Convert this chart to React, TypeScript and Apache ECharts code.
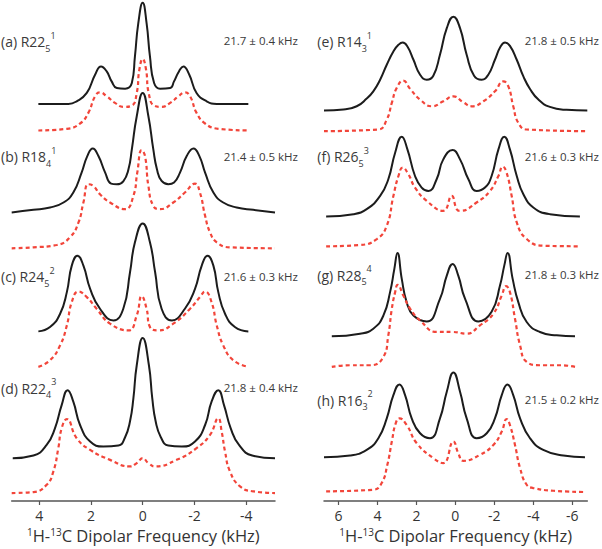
import React, { useEffect, useRef } from "react";
import * as echarts from "echarts";

// x: dipolar frequency (kHz); y: stacked intensity (arbitrary units, baseline-offset)
const aExp = [[4.03,398.7],[2.87,398.7],[2.55,401.3],[2.16,409.7],[1.84,428],[1.61,436.3],[1.39,431.3],[1.20,421.3],[1.00,414.7],[0.68,414],[0.42,419.7],[0.30,446.3],[0.17,479.7],[0,500.3],[-0.15,479.7],[-0.28,446.3],[-0.44,419.7],[-0.67,414],[-1.06,414.7],[-1.21,421.3],[-1.40,431.3],[-1.57,436.3],[-1.80,428],[-2.08,409.7],[-2.47,401.3],[-2.86,398.7],[-4.08,398.7]];
const aSim = [[4.03,372],[2.93,373.7],[2.42,379],[2.10,389.7],[1.84,406.3],[1.65,410.3],[1.39,406.3],[1.07,399.7],[0.75,395.7],[0.42,397],[0.23,409.7],[0.13,433],[0,443.7],[-0.13,433],[-0.23,409.7],[-0.44,397],[-0.73,395.7],[-1.06,399.7],[-1.38,406.3],[-1.63,410.3],[-1.83,406.3],[-2.08,389.7],[-2.41,379],[-2.92,373.7],[-4.08,372]];
const bExp = [[5.06,289.7],[4.22,292.3],[3.58,294.7],[3.06,299.7],[2.68,309.7],[2.36,329.7],[2.14,346.3],[1.93,354],[1.71,346.3],[1.45,329.7],[1.22,318.7],[1.00,318],[0.75,321],[0.55,333],[0.42,353],[0.23,386.3],[0,409.7],[-0.22,386.3],[-0.41,353],[-0.55,333],[-0.73,321.3],[-0.99,318],[-1.21,319.7],[-1.44,329.7],[-1.70,346.3],[-1.96,354],[-2.19,346.3],[-2.41,329.7],[-2.73,309.7],[-3.11,299.7],[-3.63,294.7],[-4.27,292.3],[-5.11,289.7]];
const bSim = [[5.06,253.7],[4.22,254.7],[3.32,257],[2.81,264.7],[2.48,279.7],[2.29,299.7],[2.10,318],[1.91,316.3],[1.65,308],[1.26,299.7],[0.68,293],[0.36,306.3],[0.21,329.7],[0.04,352.3],[-0.09,346.3],[-0.22,316.3],[-0.41,296.3],[-0.67,293],[-1.18,299.7],[-1.63,309.7],[-2.02,318.7],[-2.21,309.7],[-2.41,286.3],[-2.60,269.7],[-2.86,259.7],[-3.37,254.7],[-5.11,253.7]];
const cExp = [[4.03,170.3],[3.58,174.7],[3.19,188],[2.93,209.7],[2.74,236.3],[2.52,246.3],[2.29,236.3],[2.03,213],[1.65,193],[1.13,181.3],[0.75,193],[0.49,229.7],[0.30,259.7],[0,278.7],[-0.28,259.7],[-0.48,229.7],[-0.73,193],[-1.13,181.3],[-1.63,193],[-2.02,213],[-2.28,236.3],[-2.50,246.3],[-2.73,236.3],[-2.92,209.7],[-3.18,188],[-3.56,174.7],[-4.08,170.3]];
const cSim = [[4.03,134.7],[3.58,141.3],[3.19,156.3],[2.93,176.3],[2.74,199.7],[2.48,210.3],[2.16,204.7],[1.78,193],[1.26,178],[0.55,171.3],[0.23,186.3],[0.04,205.7],[-0.15,193],[-0.28,174.7],[-0.60,171.3],[-1.18,178],[-1.83,193],[-2.21,204.7],[-2.41,210.3],[-2.66,199.7],[-2.86,176.3],[-3.11,156.3],[-3.50,141.3],[-4.08,134.7]];
const dExp = [[5.02,43],[4.22,45.7],[3.71,56.3],[3.39,73],[3.13,96.3],[2.90,111.3],[2.68,99.7],[2.42,76.3],[2.03,59.7],[1.52,54.7],[0.94,55.7],[0.68,64],[0.49,80],[0.36,103],[0.23,136.3],[0,163.7],[-0.24,136.3],[-0.37,103],[-0.50,80],[-0.70,64],[-0.99,55.7],[-1.51,54.7],[-2.02,59.7],[-2.41,76.3],[-2.66,99.7],[-2.92,111.3],[-3.14,96.3],[-3.40,73],[-3.72,56.3],[-4.23,45.7],[-5.11,43]];
const dSim = [[5.06,8],[4.22,9],[3.71,16.3],[3.45,29.7],[3.26,53],[3.13,73],[2.93,82.3],[2.55,63],[2.03,51.3],[1.26,41.3],[0.49,34.7],[0.23,38],[0,43],[-0.22,38],[-0.48,34.7],[-1.31,41.3],[-2.08,53],[-2.60,66.3],[-2.92,83],[-3.05,69.7],[-3.18,49.7],[-3.37,29.7],[-3.76,14.7],[-4.27,9.7],[-5.11,8]];

const eExp = [[6.74,392],[5.74,393],[5.06,396.3],[4.55,404],[4.21,411.3],[3.86,423],[3.52,438],[3.18,451.3],[2.92,458],[2.70,460.3],[2.46,456.3],[2.15,443],[1.81,428],[1.47,423],[1.13,427],[0.79,448],[0.44,474.7],[0.10,486.3],[-0.24,474.7],[-0.58,448],[-0.96,427],[-1.35,423],[-1.69,428],[-2.03,443],[-2.32,456.3],[-2.55,460.3],[-2.80,457],[-3.15,443],[-3.49,426.3],[-3.83,413.7],[-4.26,403],[-4.85,395.7],[-5.71,392.7],[-6.77,392]];
const eSim = [[6.74,371.3],[3.95,373],[3.52,383],[3.26,399.7],[3.01,414.7],[2.67,422],[2.32,413.7],[1.81,403],[1.21,396.3],[0.62,401.3],[0.10,406.3],[-0.41,400.3],[-0.84,396.3],[-1.44,401.3],[-2.03,411.3],[-2.46,421.3],[-2.72,416.3],[-2.97,396.3],[-3.23,379.7],[-3.66,373],[-6.77,371.3]];
const fExp = [[6.63,285.7],[5.23,288],[4.55,293],[3.86,306.3],[3.44,323],[3.09,349.7],[2.75,365.7],[2.46,353],[2.07,326.3],[1.73,314.7],[1.38,311.3],[0.96,323],[0.62,343],[0.14,352.3],[-0.24,343],[-0.67,323],[-1.09,311.3],[-1.52,314.7],[-1.86,326.3],[-2.21,353],[-2.51,365.7],[-2.80,353],[-3.15,326.3],[-3.49,308],[-4.0,294.7],[-4.85,288],[-6.39,285.7]];
const fSim = [[6.63,255.7],[4.89,257],[4.03,263],[3.52,276.3],[3.18,306.3],[2.92,326.3],[2.70,334.7],[2.41,328],[2.07,314.7],[1.47,301.3],[0.62,291.3],[0.19,306.3],[-0.07,293],[-0.24,291.3],[-1.09,299.7],[-1.78,311.3],[-2.21,326.3],[-2.43,335.7],[-2.63,329.7],[-2.89,306.3],[-3.15,279.7],[-3.66,263],[-4.51,256.3],[-6.39,255.7]];
const gExp = [[6.34,165.3],[4.89,168],[4.21,173],[3.69,186.3],[3.35,209.7],[3.13,233],[2.97,249],[2.75,223],[2.50,199.7],[2.15,186.3],[1.47,180.3],[0.79,203],[0.44,226.3],[0.14,238],[-0.15,226.3],[-0.50,203],[-1.18,180.3],[-1.86,190],[-2.29,216.3],[-2.51,236.3],[-2.68,249],[-2.94,223],[-3.23,199.7],[-3.66,179.7],[-4.34,169.7],[-5.20,166.3],[-6.14,165.3]];
const gSim = [[6.34,134.7],[5.40,136.3],[4.38,136.3],[3.69,144.7],[3.44,166.3],[3.26,193],[3.09,209.7],[2.96,217],[2.67,206.3],[2.32,193],[1.81,181.3],[0.96,169.7],[0.14,169.7],[-0.58,168],[-1.26,176.3],[-1.95,188],[-2.38,206.3],[-2.60,215.7],[-2.80,209.7],[-3.06,183],[-3.32,156.3],[-3.66,139.7],[-4.34,136.3],[-5.37,136.3],[-6.14,134.7]];
const hExp = [[6.74,44],[5.40,45.7],[4.55,51.3],[3.95,63],[3.52,83],[3.18,106.3],[2.87,117],[2.58,106.3],[2.24,83],[1.81,68],[1.30,63],[0.79,83],[0.44,109.7],[0.10,129],[-0.24,109.7],[-0.58,83],[-1.09,63],[-1.61,68],[-2.03,83],[-2.38,106.3],[-2.67,117],[-2.97,106.3],[-3.32,83],[-3.83,63],[-4.51,51.3],[-5.54,45.7],[-6.65,44]];
const hSim = [[6.63,9.7],[4.21,11.3],[3.78,18],[3.49,36.3],[3.26,59.7],[3.06,78],[2.87,83],[2.50,76.3],[1.98,58],[1.13,43],[0.62,38],[0.10,59.7],[-0.15,48],[-0.41,40.3],[-1.26,46.3],[-1.95,56.3],[-2.38,69.7],[-2.63,82.3],[-2.80,76.3],[-3.06,56.3],[-3.32,33],[-3.66,16.3],[-4.0,13],[-5.03,10.3],[-6.65,9]];

const leftExp = [aExp, bExp, cExp, dExp];
const leftSim = [aSim, bSim, cSim, dSim];
const rightExp = [eExp, fExp, gExp, hExp];
const rightSim = [eSim, fSim, gSim, hSim];

const panelTags = ["(a) R22", "(b) R18", "(c) R24", "(d) R22", "(e) R14", "(f) R26", "(g) R28", "(h) R16"];
const panelSubs = ["5", "4", "5", "4", "3", "5", "5", "3"];
const panelSups = ["1", "1", "2", "3", "1", "3", "4", "2"];
const couplings = ["21.7 ± 0.4 kHz", "21.4 ± 0.5 kHz", "21.6 ± 0.3 kHz", "21.8 ± 0.4 kHz", "21.8 ± 0.5 kHz", "21.6 ± 0.3 kHz", "21.8 ± 0.3 kHz", "21.5 ± 0.2 kHz"];

const leftTicks = [4, 2, 0, -2, -4];
const rightTicks = [6, 4, 2, 0, -2, -4, -6];

const FONT = "'Open Sans', 'DejaVu Sans', sans-serif";
const TXT = "#3a3a3a";
const BLACK = "#1c1c1c";
const RED = "#f2453a";

const tagY = [41.7, 156.7, 276.7, 388.3, 41.7, 156.7, 275, 400];
const valY = [40, 156, 276.7, 387.7, 40, 156, 274.5, 399.5];

function xAxisFor(gridIndex: number, min: number, max: number, ticks: number[]) {
  return {
    type: "value",
    gridIndex,
    min,
    max,
    inverse: true,
    splitLine: { show: false },
    axisLine: { show: true, onZero: false, lineStyle: { color: "#555", width: 1.5 } },
    axisTick: { show: true, length: 4, customValues: ticks, lineStyle: { color: "#555", width: 1.2 } },
    axisLabel: { customValues: ticks, color: "#333", fontSize: 14, fontFamily: FONT, margin: 7 },
    name: "{p|1}H-{p|13}C Dipolar Frequency (kHz)",
    nameLocation: "middle",
    nameGap: 26,
    nameTextStyle: {
      color: "#333",
      fontSize: 16.5,
      fontFamily: FONT,
      rich: {
        p: { fontSize: 10, fontFamily: FONT, color: "#333", verticalAlign: "top", lineHeight: 10 },
      },
    },
  };
}

function yAxisFor(gridIndex: number) {
  return { type: "value", gridIndex, min: 0, max: 503, show: false };
}

function lineSeries(data: number[][], idx: number, dashed: boolean) {
  return {
    type: "line",
    xAxisIndex: idx,
    yAxisIndex: idx,
    data,
    smooth: 0.5,
    showSymbol: false,
    symbol: "none",
    clip: false,
    lineStyle: dashed
      ? { color: RED, width: 2.2, type: [4, 3] }
      : { color: BLACK, width: 2 },
    z: dashed ? 3 : 2,
  };
}

export default function App() {
  const ref = useRef<HTMLDivElement>(null);
  useEffect(() => {
    if (!ref.current) return;
    const chart = echarts.init(ref.current, undefined, { renderer: "svg" });
    const series: any[] = [];
    leftExp.forEach((d) => series.push(lineSeries(d, 0, false)));
    leftSim.forEach((d) => series.push(lineSeries(d, 0, true)));
    rightExp.forEach((d) => series.push(lineSeries(d, 1, false)));
    rightSim.forEach((d) => series.push(lineSeries(d, 1, true)));

    const graphics: any[] = [];
    panelTags.forEach((tag, i) => {
      const right = i >= 4;
      graphics.push({
        type: "text",
        x: right ? 317.3 : 1,
        y: tagY[i],
        z: 10,
        style: {
          text: `{m|${tag}}{s|${panelSubs[i]}}{p|${panelSups[i]}}`,
          align: "left",
          verticalAlign: "middle",
          fill: TXT,
          rich: {
            m: { fontSize: 14, fontFamily: FONT, fill: TXT, lineHeight: 22 },
            s: { fontSize: 9, fontFamily: FONT, fill: TXT, verticalAlign: "bottom", lineHeight: 12 },
            p: { fontSize: 9, fontFamily: FONT, fill: TXT, verticalAlign: "top", lineHeight: 12 },
          },
        },
      });
      graphics.push({
        type: "text",
        x: right ? 599 : 298,
        y: valY[i],
        z: 10,
        style: {
          text: couplings[i],
          align: "right",
          verticalAlign: "middle",
          fill: TXT,
          fontSize: 11.5,
          fontFamily: FONT,
        },
      });
    });

    chart.setOption({
      animation: false,
      backgroundColor: "#ffffff",
      grid: [
        { left: 11.7, top: 0, width: 263.3, height: 503 },
        { left: 324, top: 0, width: 263.3, height: 503 },
      ],
      xAxis: [xAxisFor(0, -5.11, 5.06, leftTicks), xAxisFor(1, -6.77, 6.74, rightTicks)],
      yAxis: [yAxisFor(0), yAxisFor(1)],
      series,
      graphic: graphics,
    });
    return () => chart.dispose();
  }, []);
  return (
    <div
      ref={ref}
      style={{ position: "fixed", left: 0, top: 0, width: 602, height: 549, background: "#fff" }}
    />
  );
}
